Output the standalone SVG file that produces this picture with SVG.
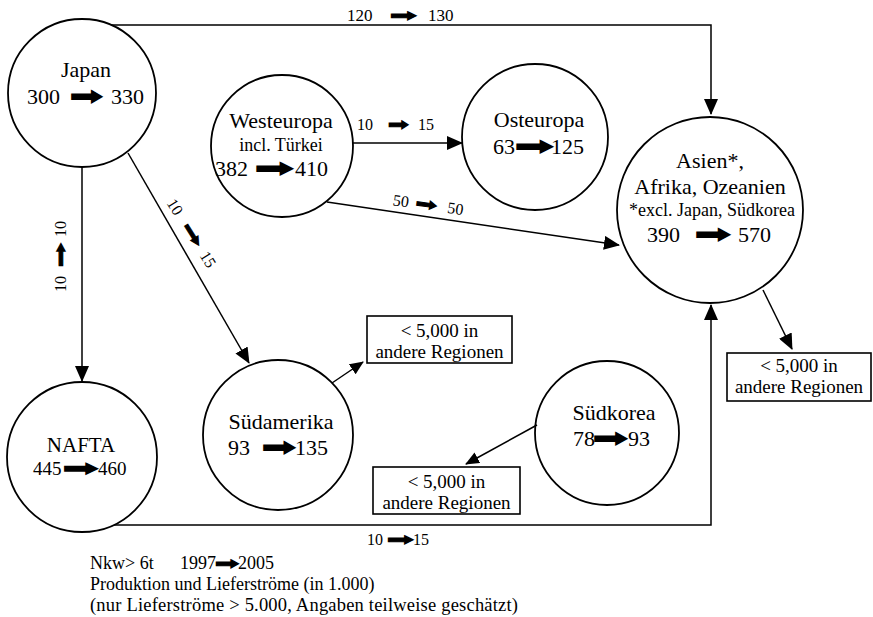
<svg xmlns="http://www.w3.org/2000/svg" width="873" height="617" viewBox="0 0 873 617">
<style>
text{font-family:"Liberation Serif","Times New Roman",serif;fill:#000}
.ar{font-family:"DejaVu Sans",sans-serif;font-size:23px;stroke:#000;stroke-width:1.3;stroke-linejoin:miter}
.s{font-size:16px;stroke-width:1}
.n circle{fill:none;stroke:#000;stroke-width:1.8}
.b rect{fill:#fff;stroke:#000;stroke-width:1.6}
#connectors path{fill:none;stroke:#000;stroke-width:1.5}
.m{text-anchor:middle}
</style>
<defs>
<marker id="ah" markerUnits="userSpaceOnUse" markerWidth="16" markerHeight="14" refX="15" refY="7" orient="auto"><path d="M0,0 L16,7 L0,14 z" fill="#000"/></marker>
<marker id="as" markerUnits="userSpaceOnUse" markerWidth="14" markerHeight="12" refX="13" refY="6" orient="auto"><path d="M0,0 L14,6 L0,12 z" fill="#000"/></marker>
</defs>
<rect width="873" height="617" fill="#fff"/>
<g id="connectors">
<path d="M111 25 H711 V114" marker-end="url(#ah)"/>
<path d="M353 143 H462" marker-end="url(#ah)"/>
<path d="M327 202 L619 245" marker-end="url(#ah)"/>
<path d="M82 167 V381" marker-end="url(#ah)"/>
<path d="M128 153 L249 363" marker-end="url(#ah)"/>
<path d="M114 525 H711 V305" marker-end="url(#ah)"/>
<path d="M763 290 L792 349" marker-end="url(#ah)"/>
<path d="M332 383 L363 362" marker-end="url(#as)"/>
<path d="M537 425 L466 464" marker-end="url(#as)"/>
<g id="lbl-japan-asien">
<text x="347" y="21" font-size="17">120</text>
<text class="ar s" transform="translate(390,21) scale(2.0,1)">➡</text>
<text x="428" y="21" font-size="17">130</text>
</g>
<g id="lbl-west-ost">
<text x="357" y="130" font-size="16">10</text>
<text class="ar s" transform="translate(388,130) scale(1.55,1)">➡</text>
<text x="418" y="130" font-size="16">15</text>
</g>
<g id="lbl-west-asien" transform="translate(427,210) rotate(8)">
<text x="-35" y="0" font-size="16">50</text>
<text class="ar s" transform="translate(-12,0) scale(1.6,1)">➡</text>
<text x="20" y="0" font-size="16">50</text>
</g>
<g id="lbl-nafta-asien">
<text x="367" y="545" font-size="16">10</text>
<text class="ar s" transform="translate(387,545) scale(2.0,1)">➡</text>
<text x="413" y="545" font-size="16">15</text>
</g>
<g id="lbl-japan-nafta" transform="translate(66,255) rotate(-90)">
<text x="-37" y="0" font-size="16">10</text>
<text class="ar s" transform="translate(-12,0) scale(1.8,1)">➡</text>
<text x="18" y="0" font-size="16">10</text>
</g>
<g id="lbl-japan-sued" transform="translate(187,236) rotate(58)">
<text x="-39" y="0" font-size="16">10</text>
<text class="ar s" transform="translate(-11,0) scale(1.9,1)">➡</text>
<text x="23" y="0" font-size="16">15</text>
</g>
</g>
<g id="japan" class="n">
<circle cx="82" cy="93" r="74"/>
<text class="m" x="86" y="77" font-size="22">Japan</text>
<text x="27" y="104" font-size="22">300</text>
<text class="ar" transform="translate(70,104) scale(1.7,1)">➡</text>
<text x="111" y="104" font-size="22">330</text>
</g>
<g id="westeuropa" class="n">
<circle cx="282" cy="146" r="71"/>
<text class="m" x="281" y="128" font-size="22">Westeuropa</text>
<text class="m" x="281" y="151" font-size="18">incl. Türkei</text>
<text x="215" y="176" font-size="22">382</text>
<text class="ar" transform="translate(255,176) scale(2.0,1)">➡</text>
<text x="295" y="176" font-size="22">410</text>
</g>
<g id="osteuropa" class="n">
<circle cx="535" cy="137" r="73"/>
<text class="m" x="539" y="127" font-size="22">Osteuropa</text>
<text x="493" y="154" font-size="22">63</text>
<text class="ar" transform="translate(515,154) scale(2.0,1)">➡</text>
<text x="551" y="154" font-size="22">125</text>
</g>
<g id="asien" class="n">
<circle cx="710" cy="210" r="93"/>
<text class="m" x="710" y="168" font-size="22">Asien*,</text>
<text class="m" x="710" y="194" font-size="22">Afrika, Ozeanien</text>
<text class="m" x="712" y="216" font-size="18">*excl. Japan, Südkorea</text>
<text x="647" y="242" font-size="22">390</text>
<text class="ar" transform="translate(695,242) scale(1.85,1)">➡</text>
<text x="738" y="242" font-size="22">570</text>
</g>
<g id="nafta" class="n">
<circle cx="82" cy="457" r="75"/>
<text class="m" x="81" y="452" font-size="21">NAFTA</text>
<text x="33" y="475" font-size="19">445</text>
<text class="ar" style="font-size:20px" transform="translate(63,475) scale(2.1,1)">➡</text>
<text x="98" y="475" font-size="19">460</text>
</g>
<g id="suedamerika" class="n">
<circle cx="278" cy="435" r="75"/>
<text class="m" x="281" y="429" font-size="22">Südamerika</text>
<text x="228" y="455" font-size="22">93</text>
<text class="ar" transform="translate(262,455) scale(1.75,1)">➡</text>
<text x="295" y="455" font-size="22">135</text>
</g>
<g id="suedkorea" class="n">
<circle cx="607" cy="433" r="72"/>
<text class="m" x="614" y="420" font-size="22">Südkorea</text>
<text x="573" y="446" font-size="22">78</text>
<text class="ar" transform="translate(593,446) scale(1.8,1)">➡</text>
<text x="628" y="446" font-size="22">93</text>
</g>
<g id="box-suedamerika" class="b">
<rect x="367" y="316" width="145" height="47"/>
<text class="m" x="439.5" y="337" font-size="19">&lt; 5,000 in</text>
<text class="m" x="439.5" y="358" font-size="19">andere Regionen</text>
</g>
<g id="box-suedkorea" class="b">
<rect x="373" y="467" width="147" height="47"/>
<text class="m" x="446.5" y="488" font-size="19">&lt; 5,000 in</text>
<text class="m" x="446.5" y="509" font-size="19">andere Regionen</text>
</g>
<g id="box-asien" class="b">
<rect x="727" y="353" width="144" height="48"/>
<text class="m" x="799" y="372" font-size="19">&lt; 5,000 in</text>
<text class="m" x="799" y="393" font-size="19">andere Regionen</text>
</g>
<g id="legend">
<text x="90" y="569" font-size="18">Nkw&gt; 6t</text>
<text x="180" y="569" font-size="18">1997</text>
<text class="ar s" transform="translate(215,569) scale(1.8,1)">➡</text>
<text x="238" y="569" font-size="18">2005</text>
<text x="90" y="590" font-size="18">Produktion und Lieferströme (in 1.000)</text>
<text x="90" y="611" font-size="18.5" textLength="428" lengthAdjust="spacing">(nur Lieferströme &gt; 5.000, Angaben teilweise geschätzt)</text>
</g>
</svg>
